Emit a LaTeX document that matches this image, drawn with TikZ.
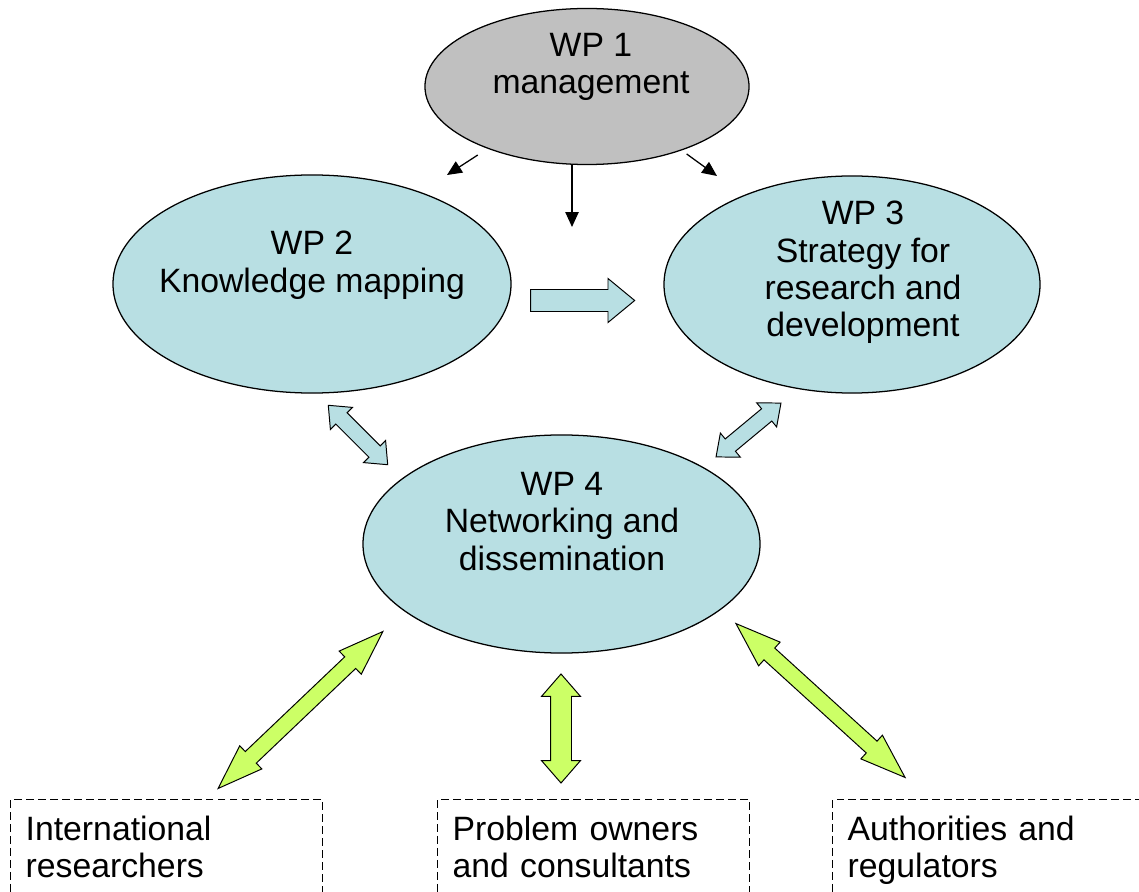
\documentclass[tikz,border=0pt]{standalone}
\usepackage{fontspec}
\setmainfont{Liberation Sans}
\usetikzlibrary{shapes.geometric,shapes.arrows,arrows.meta}
\definecolor{wpblue}{HTML}{B8DFE3}
\definecolor{wpgray}{HTML}{C0C0C0}
\definecolor{wpgreen}{HTML}{CCFF66}
\begin{document}
\begin{tikzpicture}[x=0.025cm,y=-0.025cm,
        font=\fontsize{24}{26.5}\selectfont,
        wp/.style={draw,ellipse,line width=0.9pt,inner sep=0pt},
        wptext/.style={anchor=north,align=center,inner sep=0pt},
        flow/.style={-{Triangle[length=0.37cm,width=0.33cm]},line width=0.9pt},
        bluearrow/.style={draw,fill=wpblue,line width=0.7pt,inner xsep=0pt},
        greenarrow/.style={draw,fill=wpgreen,double arrow,line width=0.7pt,inner xsep=0pt},
        outbox/.style={draw,dash pattern=on 5.5pt off 3pt,line width=1pt,anchor=north west,
            text width=7.05cm,align=left,inner xsep=0.375cm,inner ysep=0.4cm,text depth=1.5cm}]
        \useasboundingbox (0,0) rectangle (1139,892);
        \clip (0,0) rectangle (1139,892);

        \node[wp,fill=wpgray,minimum width=8.1cm,minimum height=3.9cm] (wp1) at (587,86.5) {};
        \node[wp,fill=wpblue,minimum width=9.95cm,minimum height=5.45cm] (wp2) at (312,284) {};
        \node[wp,fill=wpblue,minimum width=9.4cm,minimum height=5.425cm] (wp3) at (852,284.5) {};
        \node[wp,fill=wpblue,minimum width=9.925cm,minimum height=5.45cm] (wp4) at (561.5,544) {};

        \node[wptext] (wp1txt) at (591,33) {WP 1\\management};
        \node[wptext] (wp2txt) at (312,231) {WP 2\\Knowledge mapping};
        \node[wptext] (wp3txt) at (863,201) {WP 3\\Strategy for\\research and\\development};
        \node[wptext] (wp4txt) at (562,472) {WP 4\\Networking and\\dissemination};

        \coordinate (tipL) at (447,175);
        \coordinate (tipM) at (572,227);
        \coordinate (tipR) at (717,176);
        \draw[flow,shorten <=0.29cm] (wp1.212) -- (tipL);
        \draw[flow] (wp1.south -| tipM) -- (tipM);
        \draw[flow,shorten <=0.15cm] (wp1.-34) -- (tipR);

        \node[bluearrow,single arrow,minimum height=2.6cm,inner ysep=0.2625cm,
            single arrow head extend=0.275cm,single arrow tip angle=79] (a23) at (576,300.5) {};
        \node[bluearrow,double arrow,minimum height=2.1cm,inner ysep=0.1875cm,
            double arrow head extend=0.19cm,double arrow tip angle=80,rotate=-45] (a24) at (358,435) {};
        \node[bluearrow,double arrow,minimum height=2.11cm,inner ysep=0.1875cm,
            double arrow head extend=0.19cm,double arrow tip angle=80,rotate=39.7] (a34) at (748.5,430) {};

        \node[greenarrow,minimum height=5.69cm,inner ysep=0.1875cm,
            double arrow head extend=0.2cm,double arrow tip angle=39,rotate=43.6] (a4int) at (300.5,710) {};
        \node[greenarrow,minimum height=2.725cm,inner ysep=0.25cm,
            double arrow head extend=0.225cm,double arrow tip angle=82,rotate=90] (a4own) at (561,728.5) {};
        \node[greenarrow,minimum height=5.715cm,inner ysep=0.1875cm,
            double arrow head extend=0.2cm,double arrow tip angle=39,rotate=-42.3] (a4auth) at (820.5,700.5) {};

        \node[outbox] (intl) at (10,799) {International\\researchers};
        \node[outbox] (owners) at (437,799) {Problem owners\\and consultants};
        \node[outbox] (auth) at (832,799) {Authorities and\\regulators};
    \end{tikzpicture}
\end{document}
